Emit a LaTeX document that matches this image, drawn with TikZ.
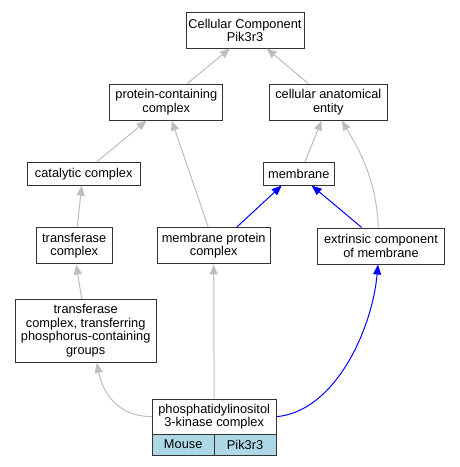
\documentclass[tikz,border=0pt]{standalone}
\usepackage{fontspec}
\setmainfont{Liberation Sans}
\usetikzlibrary{arrows.meta}
\definecolor{edgegray}{HTML}{BEBEBE}
\definecolor{boxline}{HTML}{333333}
\definecolor{cellblue}{HTML}{ADD8E6}
\begin{document}
\begin{tikzpicture}[x=1pt,y=-1pt,
  every node/.style={font=\fontsize{12.8pt}{13.6pt}\selectfont},
  gobox/.style={draw=boxline, line width=1pt, fill=white, inner sep=0pt, align=center},
  cellbox/.style={draw=boxline, line width=1pt, fill=cellblue, inner sep=0pt, align=center},
  isa/.style={draw=edgegray, line width=1pt, -{Triangle[length=10pt,width=8pt,fill=edgegray]}},
  partof/.style={draw=blue, line width=1pt, -{Triangle[length=10pt,width=8pt,fill=blue]}}]
\useasboundingbox (0,0) rectangle (460,467);
\fill[white] (0,0) rectangle (460,467);

% nodes
\node[gobox, minimum width=118pt, minimum height=35.5pt] (top) at (245,30.25) {Cellular Component\\Pik3r3};
\node[gobox, minimum width=112.7pt, minimum height=36pt] (pcc) at (166.3,102) {protein-containing\\complex};
\node[gobox, minimum width=118pt, minimum height=36pt] (cae) at (328.3,102) {cellular anatomical\\entity};
\node[gobox, minimum width=112.7pt, minimum height=22.7pt] (cat) at (83.7,173.7) {catalytic complex};
\node[gobox, minimum width=71pt, minimum height=22.7pt] (mem) at (298.8,173.7) {membrane};
\node[gobox, minimum width=76.3pt, minimum height=36.3pt] (tc) at (74.2,245.8) {transferase\\complex};
\node[gobox, minimum width=112.7pt, minimum height=36.3pt] (mpc) at (213.7,245.8) {membrane protein\\complex};
\node[gobox, minimum width=127pt, minimum height=36pt] (ext) at (381,246) {extrinsic component\\of membrane};
\node[gobox, minimum width=140.7pt, minimum height=63pt] (tpc) at (85.7,330.8) {transferase\\complex, transferring\\phosphorus-containing\\groups};
\node[gobox, minimum width=123.7pt, minimum height=35.3pt] (pi3k) at (214.15,416.65) {phosphatidylinositol\\3-kinase complex};
\node[cellbox, minimum width=61.85pt, minimum height=20.7pt] (mouse) at (183.2,444.65) {Mouse};
\node[cellbox, minimum width=61.85pt, minimum height=20.7pt] (pik) at (245.1,444.65) {Pik3r3};

% edges
\draw[isa] ([xshift=21pt]pcc.north) -- ([xshift=-15pt]top.south);
\draw[isa] ([xshift=-20pt]cae.north) -- ([xshift=21.7pt]top.south);
\draw[isa] ([xshift=13pt]cat.north) -- ([xshift=-19.6pt]pcc.south);
\draw[isa] ([xshift=-5.4pt]mpc.north) -- ([xshift=5.4pt]pcc.south);
\draw[isa] ([xshift=6.2pt]mem.north) -- ([xshift=-6.6pt]cae.south);
\draw[isa] ([xshift=-2.7pt]ext.north) .. controls +(-2,-48) and +(18,30) .. ([xshift=13.4pt]cae.south);
\draw[partof] ([xshift=23pt]mpc.north) -- ([xshift=-17.1pt]mem.south);
\draw[partof] ([xshift=-19.3pt]ext.north) -- ([xshift=12.9pt]mem.south);
\draw[isa] ([xshift=3.1pt]tc.north) -- ([xshift=-2pt]cat.south);
\draw[isa] ([xshift=-4pt]tpc.north) -- ([xshift=2pt]tc.south);
\draw[isa] (pi3k.west) .. controls +(-27,0) and +(8,38) .. ([xshift=11pt]tpc.south);
\draw[isa] (pi3k.north) -- (mpc.south);
\draw[partof] (pi3k.east) .. controls +(58,-5) and +(-6,66) .. ([xshift=-3pt]ext.south);
\end{tikzpicture}
\end{document}
